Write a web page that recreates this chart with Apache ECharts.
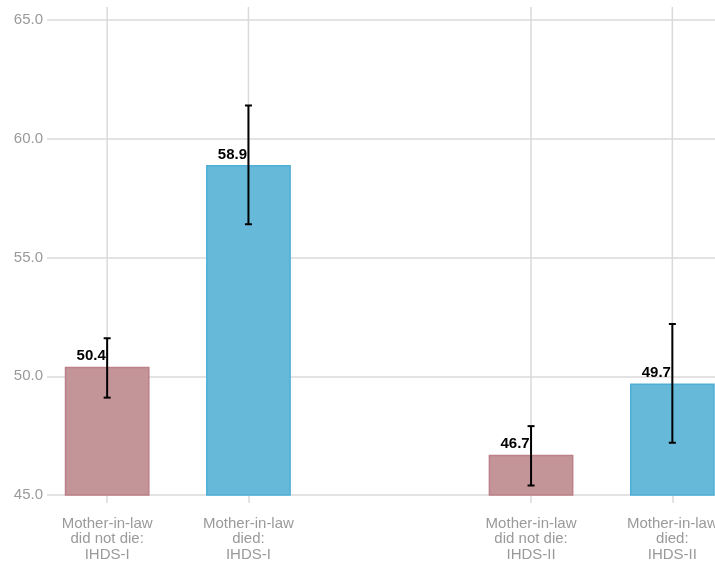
<!DOCTYPE html>
<html>
<head>
<meta charset="utf-8">
<script src="https://cdn.jsdelivr.net/npm/echarts@6/dist/echarts.min.js"></script>
<style>
  html, body { margin: 0; padding: 0; background: #fff; }
  #chart { width: 715px; height: 567px; }
</style>
</head>
<body>
<div id="chart"></div>
<script>
// categories (the empty one keeps the gap between survey rounds)
var categories = [
    'Mother-in-law\ndid not die:\nIHDS-I',
    'Mother-in-law\ndied:\nIHDS-I',
    '',
    'Mother-in-law\ndid not die:\nIHDS-II',
    'Mother-in-law\ndied:\nIHDS-II'
];
var means = [50.4, 58.9, null, 46.7, 49.7];
var lower = [49.1, 56.4, null, 45.4, 47.2];
var upper = [51.6, 61.4, null, 47.9, 52.2];
var died = [false, true, null, false, true];
var yTicks = [45, 50, 55, 60, 65];

var FONT = '"Liberation Sans", Arial, sans-serif';
var FONT_SIZE = 15;
var GRID_COLOR = '#dadada';

var styles = {
    alive: { color: '#c39598', borderColor: '#bd7f88', borderWidth: 1.5 },
    died: { color: '#66b9d9', borderColor: '#4eafd6', borderWidth: 1.5 }
};

var barData = [];
var errData = [];
var lineData = [];
for (var i = 0; i < categories.length; i++) {
    if (means[i] == null) {
        barData.push(null);
        continue;
    }
    barData.push({
        value: means[i],
        itemStyle: died[i] ? styles.died : styles.alive
    });
    errData.push([i, lower[i], upper[i]]);
    lineData.push([i]);
}

var chartDiv = document.getElementById('chart');
var chart = echarts.init(chartDiv, null, { renderer: 'canvas' });

var option = {
    animation: false,
    backgroundColor: '#ffffff',
    grid: [
        // bars + vertical lines
        { left: 36.5, top: 7, width: 706.5, height: 488, outerBoundsMode: 'none', containLabel: false },
        // horizontal lines + y labels
        { left: 47, right: 0, top: 20, height: 475, outerBoundsMode: 'none', containLabel: false }
    ],
    xAxis: [{
        type: 'category',
        gridIndex: 0,
        data: categories,
        axisLine: { show: false },
        axisTick: {
            show: true,
            alignWithLabel: true,
            length: 8,
            interval: function(idx, val) { return val !== ''; },
            lineStyle: { color: GRID_COLOR, width: 1.5 }
        },
        axisLabel: {
            interval: 0,
            margin: 21,
            color: '#9a9a9a',
            fontSize: FONT_SIZE,
            lineHeight: 15.5,
            fontFamily: FONT
        },
        splitLine: { show: false }
    }, {
        type: 'value',
        gridIndex: 1,
        show: false
    }],
    yAxis: [{
        type: 'value',
        gridIndex: 0,
        min: 45,
        max: 65 + 13 / 23.75,
        show: false,
        splitLine: { show: false }
    }, {
        type: 'value',
        gridIndex: 1,
        min: yTicks[0],
        max: yTicks[yTicks.length - 1],
        interval: 5,
        axisLine: { show: false },
        axisTick: { show: false },
        axisLabel: {
            margin: 4,
            color: '#9a9a9a',
            fontSize: FONT_SIZE,
            fontFamily: FONT,
            formatter: function(v) { return v.toFixed(1); }
        },
        splitLine: { lineStyle: { color: GRID_COLOR, width: 1.5 } }
    }],
    series: [{
        // vertical grid lines at each bar
        type: 'custom',
        xAxisIndex: 0,
        yAxisIndex: 0,
        z: 0,
        silent: true,
        data: lineData,
        renderItem: function(params, api) {
            var x = api.coord([api.value(0), 50])[0];
            var cs = params.coordSys;
            return {
                type: 'line',
                shape: { x1: x, y1: cs.y, x2: x, y2: cs.y + cs.height },
                style: { stroke: GRID_COLOR, lineWidth: 1.5 }
            };
        }
    }, {
        type: 'bar',
        xAxisIndex: 0,
        yAxisIndex: 0,
        barWidth: '60%',
        z: 3,
        data: barData,
        label: {
            show: true,
            position: 'top',
            distance: 3,
            offset: [-16, 0],
            color: '#000',
            fontSize: FONT_SIZE,
            fontWeight: 'bold',
            fontFamily: FONT,
            formatter: function(p) { return p.value.toFixed(1); }
        }
    }, {
        type: 'custom',
        xAxisIndex: 0,
        yAxisIndex: 0,
        z: 4,
        data: errData,
        renderItem: function(params, api) {
            var lo = api.coord([api.value(0), api.value(1)]);
            var hi = api.coord([api.value(0), api.value(2)]);
            var cap = 3.5;
            var st = { stroke: '#000', lineWidth: 2 };
            return {
                type: 'group',
                children: [
                    { type: 'line', shape: { x1: lo[0], y1: lo[1], x2: hi[0], y2: hi[1] }, style: st },
                    { type: 'line', shape: { x1: lo[0] - cap, y1: lo[1], x2: lo[0] + cap, y2: lo[1] }, style: st },
                    { type: 'line', shape: { x1: hi[0] - cap, y1: hi[1], x2: hi[0] + cap, y2: hi[1] }, style: st }
                ]
            };
        }
    }]
};

chart.setOption(option);

window.addEventListener('resize', function() {
    chart.resize();
});
</script>
</body>
</html>
